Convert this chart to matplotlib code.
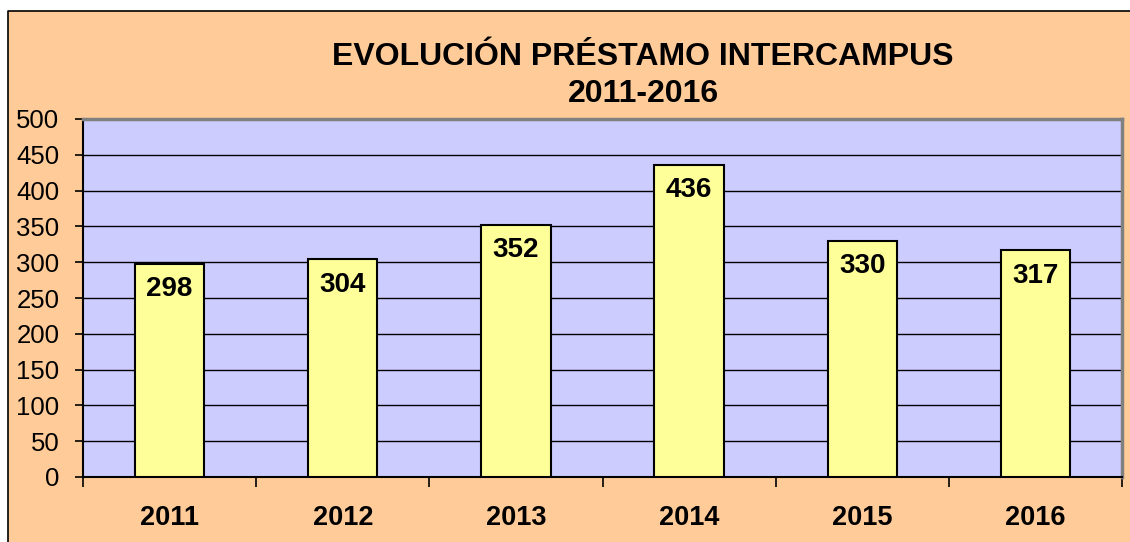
import numpy as np
import matplotlib.pyplot as plt
import matplotlib.patches as patches
from matplotlib.lines import Line2D

# prestamos intercampus por año
years = ['2011', '2012', '2013', '2014', '2015', '2016']
loans = [298, 304, 352, 436, 330, 317]
yticks = [0, 50, 100, 150, 200, 250, 300, 350, 400, 450, 500]

plt.rcParams['font.family'] = ['Liberation Sans', 'DejaVu Sans']

fig = plt.figure(figsize=(11.3, 5.42), dpi=100, facecolor='white')

# orange chart area, framed only on the left and top
W, H = 1130, 542
x0, y0 = 8 / W, 1 - 11 / H
bg = patches.Rectangle((x0, 0), 1 - x0, y0, transform=fig.transFigure,
                       facecolor='#FFCC99', edgecolor='none', zorder=-5)
fig.patches.append(bg)
fig.lines.append(Line2D([x0, x0, 1], [0, y0, y0], transform=fig.transFigure,
                        color='black', linewidth=1.2, zorder=-4))

ax = fig.add_axes([83 / W, 65 / H, (1122 - 83) / W, (477 - 119) / H])
ax.set_facecolor('#CCCCFF')

x = np.arange(len(years))
ax.bar(x, loans, width=0.4, color='#FFFF99', edgecolor='black',
       linewidth=1.5, zorder=3)

for xi, v in zip(x, loans):
    ax.annotate(str(v), (xi, v), xytext=(0, -9), textcoords='offset points',
                ha='center', va='top', fontsize=20, fontweight='bold',
                zorder=4)

ax.set_ylim(0, 500)
ax.set_xlim(-0.5, len(years) - 0.5)
ax.set_yticks(yticks)
ax.tick_params(axis='y', labelsize=18.5, length=6, width=1.2, pad=11)
ax.yaxis.grid(True, color='black', linewidth=1.0, zorder=1)
ax.set_axisbelow(True)

ax.set_xticks(x)
ax.set_xticklabels(years, fontsize=19.5, fontweight='bold')
ax.set_xticks(np.arange(-0.5, len(years)), minor=True)
ax.tick_params(axis='x', which='major', length=0, pad=20)
ax.tick_params(axis='x', which='minor', length=7, width=1.2)

for side in ['left', 'bottom']:
    ax.spines[side].set_color('black')
    ax.spines[side].set_linewidth(1.5)
for side in ['top', 'right']:
    ax.spines[side].set_color('#808080')
    ax.spines[side].set_linewidth(2.5)

fig.text(643 / W, 1 - 65 / H, 'EVOLUCIÓN PRÉSTAMO INTERCAMPUS',
         ha='center', va='baseline', fontsize=23, fontweight='bold')
fig.text(643 / W, 1 - 102 / H, '2011-2016',
         ha='center', va='baseline', fontsize=23, fontweight='bold')

fig.savefig('out.png', dpi=100, facecolor=fig.get_facecolor())
